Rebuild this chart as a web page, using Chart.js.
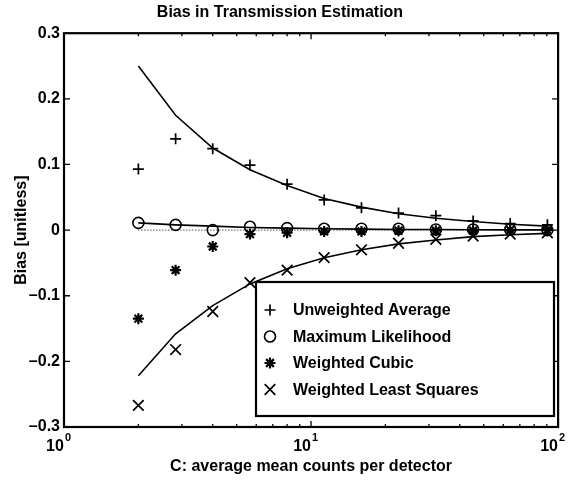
<!DOCTYPE html>
<html lang="en">
<head>
    <title>Bias in Transmission Estimation</title>
    <script src="https://cdn.jsdelivr.net/npm/chart.js"></script>
    <style>
        html, body { margin: 0; padding: 0; background: #fff; }
    </style>
</head>
<body>

<canvas id="biasChart" width="577" height="480"></canvas>

<script>
    // mean counts per detector (x)
    const counts = [2, 2.83, 4, 5.66, 8, 11.3, 16, 22.6, 32, 45.3, 64, 90.5];

    // marker values
    const unweighted = [0.093, 0.139, 0.124, 0.099, 0.070, 0.046, 0.034, 0.026, 0.022, 0.014, 0.010, 0.008];
    const maxLikelihood = [0.011, 0.008, 0.000, 0.005, 0.003, 0.002, 0.002, 0.002, 0.001, 0.001, 0.001, 0.000];
    const weightedCubic = [-0.135, -0.061, -0.025, -0.006, -0.004, -0.002, -0.002, -0.001, -0.001, -0.001, 0.000, 0.000];
    const weightedLS = [-0.267, -0.182, -0.124, -0.080, -0.061, -0.042, -0.030, -0.020, -0.014, -0.009, -0.006, -0.004];

    // theory curves
    const upperCurve = [0.250, 0.175, 0.125, 0.092, 0.068, 0.048, 0.035, 0.025, 0.018, 0.013, 0.009, 0.006];
    const lowerCurve = [-0.222, -0.158, -0.115, -0.082, -0.059, -0.042, -0.030, -0.021, -0.015, -0.010, -0.007, -0.005];
    const mlCurve = [0.011, 0.008, 0.006, 0.004, 0.003, 0.002, 0.0015, 0.001, 0.0008, 0.0006, 0.0004, 0.0003];
    const zeroLine = [0, 0, 0, 0, 0, 0, 0, 0, 0, 0, 0, 0];

    const xTicks = [1, 10, 100];
    const xTickBase = ['10', '10', '10'];
    const xTickExp = ['0', '1', '2'];
    const yTicks = [-0.3, -0.2, -0.1, 0, 0.1, 0.2, 0.3];
    const yTickLabels = ['\u20130.3', '\u20130.2', '\u20130.1', '0', '0.1', '0.2', '0.3'];

    const FONT = '"Liberation Sans", Arial, Helvetica, sans-serif';

    function pts(ys) {
        return counts.map((c, i) => ({ x: c, y: ys[i] }));
    }

    function curve(ys, dash) {
        return {
            data: pts(ys), showLine: true, borderColor: '#000', borderWidth: dash ? 1 : 1.6,
            borderDash: dash || [], pointRadius: 0, tension: 0
        };
    }

    function markers(label, ys, style, r, w) {
        return {
            label: label, data: pts(ys), showLine: false, pointStyle: style,
            pointRadius: r, pointBorderColor: '#000', pointBackgroundColor: 'rgba(0,0,0,0)',
            pointBorderWidth: w, borderColor: '#000', legendRadius: r
        };
    }

    // frame, inward ticks (MATLAB style), exponents and legend box
    const decorations = {
        id: 'decorations',
        afterDraw(chart) {
            const c = chart.ctx, a = chart.chartArea;
            const xs = chart.scales.x, ys = chart.scales.y;
            c.save();
            c.strokeStyle = '#000';
            c.lineWidth = 1.3;
            c.beginPath();
            yTicks.forEach(v => {
                const p = ys.getPixelForValue(v);
                c.moveTo(a.left, p); c.lineTo(a.left + 6, p);
                c.moveTo(a.right, p); c.lineTo(a.right - 6, p);
            });
            [1, 10].forEach(dec => {
                for (let k = 1; k <= 10; k++) {
                    const p = xs.getPixelForValue(dec * k);
                    const len = (k === 1 || k === 10) ? 6 : 3;
                    c.moveTo(p, a.bottom); c.lineTo(p, a.bottom - len);
                    c.moveTo(p, a.top); c.lineTo(p, a.top + len);
                }
            });
            c.stroke();
            c.lineWidth = 2.2;
            c.strokeRect(a.left, a.top, a.right - a.left, a.bottom - a.top);

            // tick exponents
            c.fillStyle = '#000';
            c.font = 'bold 11px ' + FONT;
            c.textAlign = 'left';
            c.textBaseline = 'middle';
            xTicks.forEach((v, i) => {
                c.fillText(xTickExp[i], xs.getPixelForValue(v) + 1, a.bottom + 11);
            });

            // legend
            const box = { x: 256, y: 282, w: 298, h: 134 };
            c.fillStyle = '#fff';
            c.fillRect(box.x, box.y, box.w, box.h);
            c.lineWidth = 2.2;
            c.strokeRect(box.x, box.y, box.w, box.h);
            c.font = 'bold 16px ' + FONT;
            const items = chart.data.datasets.filter(d => d.label);
            items.forEach((d, i) => {
                const y = box.y + 28 + i * 26.5;
                c.lineWidth = d.pointBorderWidth;
                c.fillStyle = 'rgba(0,0,0,0)';
                Chart.helpers.drawPoint(c, {
                    pointStyle: d.pointStyle, radius: d.legendRadius, rotation: 0,
                    borderWidth: d.pointBorderWidth
                }, box.x + 14, y);
                c.fillStyle = '#000';
                c.fillText(d.label, box.x + 37, y + 1);
            });
            c.restore();
        }
    };

    new Chart(document.getElementById('biasChart').getContext('2d'), {
        type: 'scatter',
        data: {
            datasets: [
                curve(upperCurve),
                curve(lowerCurve),
                curve(mlCurve),
                curve(zeroLine, [1, 2]),
                markers('Unweighted Average', unweighted, 'cross', 5.5, 1.7),
                markers('Maximum Likelihood', maxLikelihood, 'circle', 5.5, 1.6),
                markers('Weighted Cubic', weightedCubic, 'star', 5.5, 2.2),
                markers('Weighted Least Squares', weightedLS, 'crossRot', 7.5, 1.7)
            ]
        },
        options: {
            responsive: false,
            animation: false,
            devicePixelRatio: 1,
            layout: { padding: { top: 0, right: 17, bottom: 0, left: 0 } },
            plugins: {
                legend: { display: false },
                tooltip: { enabled: false },
                title: {
                    display: true,
                    text: 'Bias in Transmission Estimation',
                    color: '#000',
                    font: { family: FONT, size: 16, weight: 'bold' },
                    padding: { top: 3, bottom: 11 }
                }
            },
            scales: {
                x: {
                    type: 'logarithmic',
                    min: 1, max: 100,
                    afterBuildTicks: scale => { scale.ticks = xTicks.map(v => ({ value: v })); },
                    afterFit: scale => { scale.height = 53; },
                    grid: { display: false, drawTicks: false },
                    border: { display: false },
                    ticks: {
                        color: '#000', padding: 10, maxRotation: 0, autoSkip: false, labelOffset: -9,
                        font: { family: FONT, size: 16, weight: 'bold' },
                        callback: v => xTickBase[xTicks.indexOf(v)]
                    },
                    title: {
                        display: true, text: 'C: average mean counts per detector', color: '#000',
                        font: { family: FONT, size: 16, weight: 'bold' },
                        padding: { top: 0, bottom: 4 }
                    }
                },
                y: {
                    min: -0.3, max: 0.3,
                    afterBuildTicks: scale => { scale.ticks = yTicks.map(v => ({ value: v })); },
                    afterFit: scale => { scale.width = 64; },
                    grid: { display: false, drawTicks: false },
                    border: { display: false },
                    ticks: {
                        color: '#000', padding: 4,
                        font: { family: FONT, size: 16, weight: 'bold' },
                        callback: (v, i) => yTickLabels[i]
                    },
                    title: {
                        display: true, text: 'Bias [unitless]', color: '#000',
                        font: { family: FONT, size: 16, weight: 'bold' },
                        padding: { top: 12, bottom: 0 }
                    }
                }
            }
        },
        plugins: [decorations]
    });
</script>

</body>
</html>
